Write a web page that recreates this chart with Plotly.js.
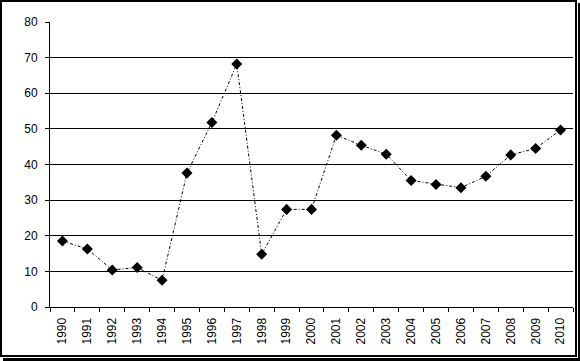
<!DOCTYPE html>
<html>
<head>
<meta charset="utf-8">
<script src="https://cdn.plot.ly/plotly-3.0.1.min.js"></script>
<style>
  html, body { margin: 0; padding: 0; background: #fff; }
  #wrap { position: relative; width: 580px; height: 361px; overflow: hidden; background: #fff; }
  #shadow { position: absolute; left: 3px; top: 3px; width: 577px; height: 358px; background: #000; }
  #gap { position: absolute; left: 0; top: 0; width: 578px; height: 358px; background: #fff; }
  #frame { position: absolute; left: 0; top: 0; width: 577px; height: 357px; box-sizing: border-box; border: 2px solid #000; background: #fff; }
  #chart { position: absolute; left: 0; top: 0; width: 580px; height: 361px; }
</style>
</head>
<body>
<div id="wrap">
  <div id="shadow"></div>
  <div id="gap"></div>
  <div id="frame"></div>
  <div id="chart"></div>
</div>
<script>
const years = ["1990","1991","1992","1993","1994","1995","1996","1997","1998","1999","2000",
               "2001","2002","2003","2004","2005","2006","2007","2008","2009","2010"];
const values = [18.5, 16.3, 10.4, 11.1, 7.5, 37.6, 51.8, 68.2, 14.8, 27.4, 27.4,
                48.2, 45.4, 42.9, 35.5, 34.4, 33.5, 36.7, 42.7, 44.5, 49.7];
const yTicks = [0, 10, 20, 30, 40, 50, 60, 70, 80];

const fontFam = 'Arial, "Liberation Sans", sans-serif';

Plotly.newPlot('chart', [{
  type: 'scatter',
  mode: 'lines+markers',
  x: years,
  y: values,
  line: { color: '#000', width: 1, dash: '3px,2px,1px,2px' },
  marker: { symbol: 'diamond', size: 8.5, color: '#000' },
  hoverinfo: 'none',
  showlegend: false
}], {
  width: 580,
  height: 361,
  margin: { l: 50, r: 7, t: 22, b: 54, pad: 0 },
  paper_bgcolor: 'rgba(0,0,0,0)',
  plot_bgcolor: 'rgba(0,0,0,0)',
  font: { family: fontFam, size: 12, color: '#000' },
  xaxis: {
    type: 'category',
    range: [-0.5, years.length - 0.5],
    tickangle: -90,
    tickson: 'boundaries',
    ticks: 'outside',
    ticklen: 4,
    tickcolor: '#000',
    showline: true,
    linecolor: '#000',
    linewidth: 1,
    showgrid: false,
    zeroline: false,
    ticklabelstandoff: 5,
    tickfont: { family: fontFam, size: 12, color: '#000' }
  },
  yaxis: {
    range: [0, 80],
    tickvals: yTicks,
    ticktext: yTicks.map(String),
    ticks: 'outside',
    ticklen: 4,
    tickcolor: '#000',
    showline: true,
    linecolor: '#000',
    linewidth: 1,
    showgrid: true,
    gridcolor: '#000',
    gridwidth: 1,
    zeroline: false,
    ticklabelstandoff: 5,
    tickfont: { family: fontFam, size: 12, color: '#000' }
  }
}, { staticPlot: true, displayModeBar: false });
</script>
</body>
</html>
